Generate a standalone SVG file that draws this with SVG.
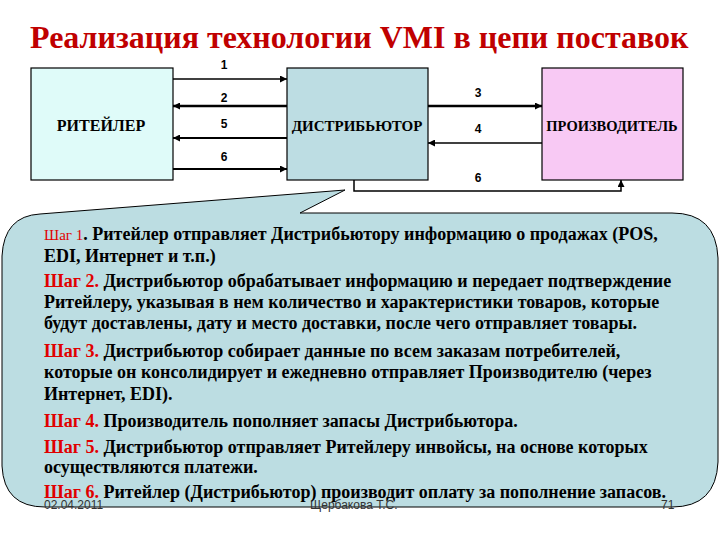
<svg xmlns="http://www.w3.org/2000/svg" width="720" height="540" viewBox="0 0 720 540">
<defs>
<marker id="ah" viewBox="0 0 10 10" refX="10" refY="5" markerWidth="7" markerHeight="7" markerUnits="userSpaceOnUse" orient="auto">
<path d="M0,0 L10,5 L0,10 Z" fill="#000"/>
</marker>
</defs>
<rect width="720" height="540" fill="#fff"/>
<text font-family="Liberation Serif" font-weight="bold" font-size="32" fill="#C00000" x="30" y="48">Реализация технологии VMI в цепи поставок</text>

<g id="retailer" text-anchor="middle">
<rect x="31" y="68" width="142" height="112" fill="#DFFBF9" stroke="#000" stroke-width="1.2"/>
<text x="101" y="131" font-family="Liberation Serif" font-weight="bold" font-size="16">РИТЕЙЛЕР</text>
</g>
<g id="distributor" text-anchor="middle">
<rect x="287" y="68" width="141" height="112" fill="#BDDDE3" stroke="#000" stroke-width="1.2"/>
<text x="357" y="131" font-family="Liberation Serif" font-weight="bold" font-size="15">ДИСТРИБЬЮТОР</text>
</g>
<g id="producer" text-anchor="middle">
<rect x="542" y="68" width="141" height="112" fill="#F8C9F4" stroke="#000" stroke-width="1.2"/>
<text x="612" y="131" font-family="Liberation Serif" font-weight="bold" font-size="14.5">ПРОИЗВОДИТЕЛЬ</text>
</g>

<g id="connectors" fill="none" stroke="#000">
<line x1="173" y1="79" x2="287" y2="79" stroke-width="1.5" marker-end="url(#ah)"/>
<line x1="287" y1="106" x2="173" y2="106" stroke-width="2.5" marker-end="url(#ah)"/>
<line x1="287" y1="138" x2="173" y2="138" stroke-width="2" marker-end="url(#ah)"/>
<line x1="173" y1="169" x2="287" y2="169" stroke-width="2" marker-end="url(#ah)"/>
<line x1="428" y1="106" x2="542" y2="106" stroke-width="2.5" marker-end="url(#ah)"/>
<line x1="542" y1="143" x2="428" y2="143" stroke-width="1.5" marker-end="url(#ah)"/>
<path d="M354,180 L354,191 L621,191 L621,180" stroke-width="1.5" marker-end="url(#ah)"/>
<g fill="#000" stroke="none" text-anchor="middle">
<text x="224" y="69" font-family="Liberation Sans" font-weight="bold" font-size="12">1</text>
<text x="224" y="102" font-family="Liberation Sans" font-weight="bold" font-size="12">2</text>
<text x="224" y="128" font-family="Liberation Sans" font-weight="bold" font-size="12">5</text>
<text x="224" y="161" font-family="Liberation Sans" font-weight="bold" font-size="12">6</text>
<text x="478" y="97" font-family="Liberation Sans" font-weight="bold" font-size="12">3</text>
<text x="478" y="133" font-family="Liberation Sans" font-weight="bold" font-size="12">4</text>
<text x="478" y="182" font-family="Liberation Sans" font-weight="bold" font-size="12">6</text>
</g>
</g>

<g id="callout">
<path d="M40,214 L345,190 L300,213 L672,213 Q716,213 718,258 L718,462 Q716,507 672,507 L45,507 Q4,507 2,466 L2,256 Q4,216 40,214 Z" fill="#BCDDE2" stroke="#000" stroke-width="1"/>
<text x="44" y="240" font-family="Liberation Serif" font-weight="bold" font-size="18"><tspan fill="#E00000" font-weight="normal" font-size="15">Шаг 1</tspan>. Ритейлер отправляет Дистрибьютору информацию о продажах (POS,</text>
<text x="44" y="262" font-family="Liberation Serif" font-weight="bold" font-size="18">EDI, Интернет и т.п.)</text>
<text x="44" y="287" font-family="Liberation Serif" font-weight="bold" font-size="18"><tspan fill="#E00000">Шаг 2.</tspan>  Дистрибьютор обрабатывает информацию и передает подтверждение</text>
<text x="44" y="308" font-family="Liberation Serif" font-weight="bold" font-size="18">Ритейлеру, указывая в нем количество и характеристики товаров, которые</text>
<text x="44" y="329" font-family="Liberation Serif" font-weight="bold" font-size="18">будут доставлены, дату и место доставки, после чего отправляет товары.</text>
<text x="44" y="357" font-family="Liberation Serif" font-weight="bold" font-size="18"><tspan fill="#E00000">Шаг 3.</tspan>  Дистрибьютор собирает данные по всем заказам потребителей,</text>
<text x="44" y="378" font-family="Liberation Serif" font-weight="bold" font-size="18">которые он консолидирует и ежедневно отправляет Производителю (через</text>
<text x="44" y="400" font-family="Liberation Serif" font-weight="bold" font-size="18">Интернет, EDI).</text>
<text x="44" y="427" font-family="Liberation Serif" font-weight="bold" font-size="18"><tspan fill="#E00000">Шаг 4.</tspan> Производитель пополняет запасы Дистрибьютора.</text>
<text x="44" y="453" font-family="Liberation Serif" font-weight="bold" font-size="18"><tspan fill="#E00000">Шаг 5.</tspan> Дистрибьютор отправляет Ритейлеру инвойсы, на основе которых</text>
<text x="44" y="473" font-family="Liberation Serif" font-weight="bold" font-size="18">осуществляются платежи.</text>
<text x="44" y="498" font-family="Liberation Serif" font-weight="bold" font-size="18"><tspan fill="#E00000">Шаг 6.</tspan> Ритейлер (Дистрибьютор) производит оплату за пополнение запасов.</text>
</g>

<g id="footer" fill="#333">
<text x="44" y="509" font-family="Liberation Sans" font-size="12">02.04.2011</text>
<text x="310" y="509" font-family="Liberation Sans" font-size="12">Щербакова Т.С.</text>
<text x="661" y="509" font-family="Liberation Sans" font-size="12">71</text>
</g>
</svg>
